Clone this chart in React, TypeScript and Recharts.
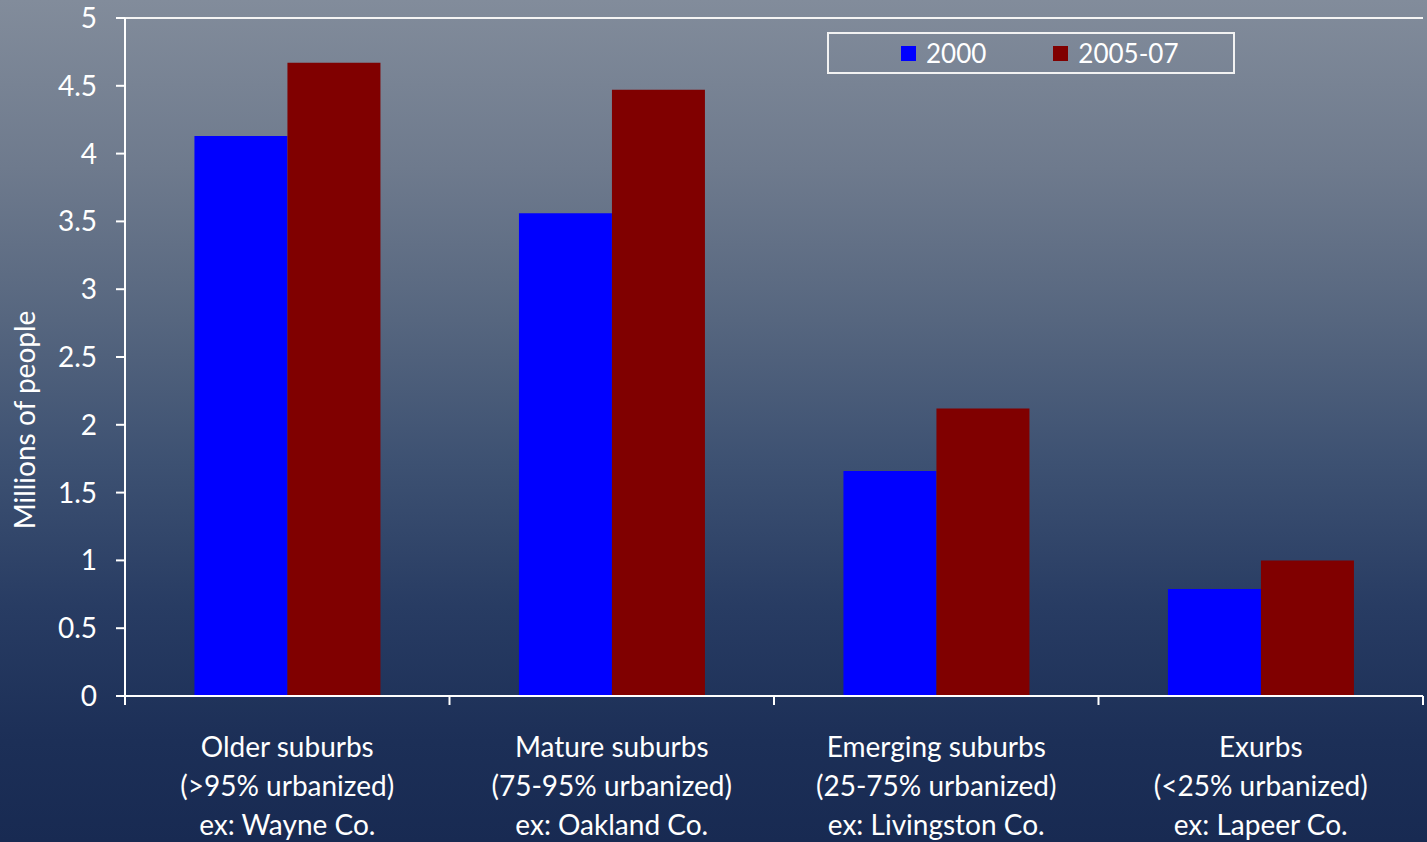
import { BarChart, Bar, XAxis, YAxis, CartesianGrid } from "recharts";

const categories = ["Older suburbs", "Mature suburbs", "Emerging suburbs", "Exurbs"];
const urbanized = ["(>95% urbanized)", "(75-95% urbanized)", "(25-75% urbanized)", "(<25% urbanized)"];
const examples = ["ex: Wayne Co.", "ex: Oakland Co.", "ex: Livingston Co.", "ex: Lapeer Co."];
const values2000 = [4.13, 3.56, 1.66, 0.79];
const values2005 = [4.67, 4.47, 2.12, 1.0];
const yTicks = [0, 0.5, 1, 1.5, 2, 2.5, 3, 3.5, 4, 4.5, 5];

const data = categories.map((name, i) => ({
  name,
  sub: urbanized[i],
  ex: examples[i],
  y2000: values2000[i],
  y2005: values2005[i],
}));

const W = 1427;
const H = 842;
const PLOT_LEFT = 125;
const PLOT_RIGHT = 1423;
const BAND = (PLOT_RIGHT - PLOT_LEFT) / categories.length;
const FONT = "Lato, 'Open Sans', sans-serif";

function CategoryTick(props: any) {
  const { x, y, payload, index } = props;
  const row = data[index] ?? data.find((d) => d.name === payload.value);
  const left = x - BAND / 2;
  return (
    <g>
      <line x1={left} y1={y - 8} x2={left} y2={y + 1} stroke="#fff" strokeWidth={2} />
      {index === categories.length - 1 && (
        <line x1={left + BAND} y1={y - 8} x2={left + BAND} y2={y + 1} stroke="#fff" strokeWidth={2} />
      )}
      <text x={x} y={y + 53} textAnchor="middle" fill="#fff" fontSize={28} fontFamily={FONT}>
        <tspan x={x}>{row.name}</tspan>
        <tspan x={x} dy={39}>{row.sub}</tspan>
        <tspan x={x} dy={39}>{row.ex}</tspan>
      </text>
    </g>
  );
}

// rotated axis title, sits a bit below the plot's middle
function AxisTitle() {
  return (
    <text
      x={0}
      y={0}
      transform="translate(35 420) rotate(-90)"
      textAnchor="middle"
      fill="#fff"
      fontSize={28}
      fontFamily={FONT}
    >
      Millions of people
    </text>
  );
}

function LegendBox() {
  return (
    <div
      style={{
        position: "absolute",
        left: 827,
        top: 32,
        width: 404,
        height: 38,
        border: "2px solid #f2f2f2",
        display: "flex",
        alignItems: "center",
        fontFamily: FONT,
        fontSize: 26,
        color: "#fff",
        boxSizing: "content-box",
      }}
    >
      <span style={{ width: 15, height: 15, background: "#0000ff", marginLeft: 72 }} />
      <span style={{ marginLeft: 10 }}>2000</span>
      <span style={{ width: 15, height: 15, background: "#800000", marginLeft: 67 }} />
      <span style={{ marginLeft: 10 }}>2005-07</span>
    </div>
  );
}

export default function App() {
  return (
    <div
      style={{
        position: "absolute",
        left: 0,
        top: 0,
        width: W,
        height: H,
        overflow: "hidden",
        background:
          "linear-gradient(180deg, #828c9b 0%, #6e7a8d 20%, #56667f 38%, #3d5172 55%, #283c63 72%, #1c2f57 88%, #182a52 100%)",
      }}
    >
      <BarChart
        width={W}
        height={H}
        data={data}
        margin={{ top: 18, right: W - PLOT_RIGHT, bottom: 0, left: 0 }}
        barCategoryGap="21.4%"
        barGap={0}
      >
        <CartesianGrid vertical={false} stroke="#f4f4f4" strokeWidth={2} />
        <XAxis
          dataKey="name"
          height={146}
          axisLine={{ stroke: "#fff", strokeWidth: 2 }}
          tickLine={false}
          interval={0}
          tick={<CategoryTick />}
        />
        <YAxis
          yAxisId="left"
          domain={[0, 5]}
          ticks={yTicks}
          width={PLOT_LEFT}
          axisLine={{ stroke: "#fff", strokeWidth: 2 }}
          tickLine={{ stroke: "#fff", strokeWidth: 2 }}
          tickSize={9}
          tickMargin={19}
          tick={{ fill: "#fff", fontSize: 28, fontFamily: FONT }}
        />
        <YAxis
          yAxisId="right"
          orientation="right"
          domain={[0, 5]}
          width={0}
          tick={false}
          tickLine={false}
          axisLine={{ stroke: "#fff", strokeWidth: 2 }}
        />
        <Bar yAxisId="left" dataKey="y2000" name="2000" fill="#0000ff" isAnimationActive={false} />
        <Bar yAxisId="left" dataKey="y2005" name="2005-07" fill="#800000" isAnimationActive={false} />
        <AxisTitle />
      </BarChart>
      <LegendBox />
    </div>
  );
}
